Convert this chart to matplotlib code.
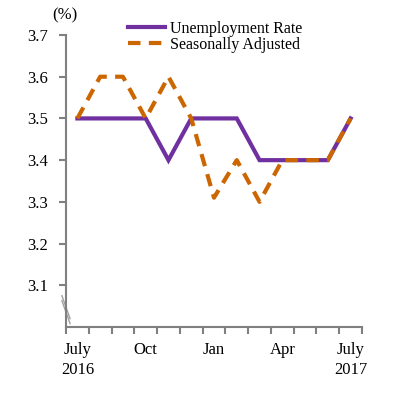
import matplotlib
matplotlib.use("Agg")
import matplotlib.pyplot as plt
import numpy as np

# Monthly data, July 2016 .. July 2017
months = ["July\n2016", "", "", "Oct", "", "", "Jan", "", "", "Apr", "", "", "July\n2017"]
unemployment = [3.5, 3.5, 3.5, 3.5, 3.4, 3.5, 3.5, 3.5, 3.4, 3.4, 3.4, 3.4, 3.5]
seasonal = [3.5, 3.6, 3.6, 3.5, 3.6, 3.5, 3.31, 3.4, 3.3, 3.4, 3.4, 3.4, 3.5]
yticks = [3.1, 3.2, 3.3, 3.4, 3.5, 3.6, 3.7]

PURPLE = "#7030A0"
ORANGE = "#CC6600"
GRAY = "#808080"
FS = 12

plt.rcParams["font.family"] = ["Liberation Serif", "DejaVu Serif"]

fig = plt.figure(figsize=(4.01, 3.94), dpi=100)
ax = fig.add_axes([66 / 401, 1 - 327 / 394, (362 - 66) / 401, (327 - 35) / 394])

x = np.arange(len(months))
ax.plot(x, unemployment, color=PURPLE, lw=3, label="Unemployment Rate", solid_joinstyle="miter")
ax.plot(x, seasonal, color=ORANGE, lw=3, dashes=(3, 2), label="Seasonally Adjusted")

ax.set_xlim(-0.5, len(months) - 0.5)
ax.set_ylim(3.0, 3.7)

# category axis: tick marks between categories, labels at the centers
ax.set_xticks(np.arange(-0.5, len(months), 1.0))
ax.set_xticklabels([])
ax.set_xticks(x, minor=True)
ax.set_xticklabels(months, minor=True, fontsize=FS, linespacing=1.35)
ax.tick_params(axis="x", which="minor", length=0, pad=11)
ax.tick_params(axis="x", which="major", length=5, width=1.5, color=GRAY, direction="out")

ax.set_yticks(yticks)
ax.set_yticklabels([f"{v:.1f}" for v in yticks], fontsize=FS)
ax.tick_params(axis="y", length=5, width=1.5, color=GRAY, direction="out", pad=8)

for s in ["top", "right"]:
    ax.spines[s].set_visible(False)
for s in ["left", "bottom"]:
    ax.spines[s].set_color(GRAY)
    ax.spines[s].set_linewidth(1.5)

# axis break marks
for dy in [0.0, 0.012]:
    ax.plot([-0.68, -0.32], [3.075 - dy, 3.02 - dy], color="#A0A0A0", lw=1,
            clip_on=False, transform=ax.transData)

fig.text(52 / 401, 1 - 15 / 394, "(%)", fontsize=FS, va="center")

ax.legend(loc="upper left", bbox_to_anchor=(120 / 401, 1 - 13 / 394),
          bbox_transform=fig.transFigure, frameon=False, fontsize=11.5,
          handlelength=2.3, handletextpad=0.3, labelspacing=0.0, borderpad=0)

fig.savefig("out.png", dpi=100)
